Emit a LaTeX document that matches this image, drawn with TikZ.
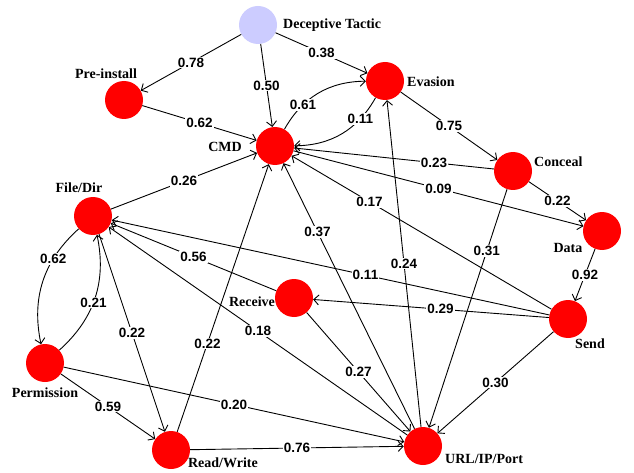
\documentclass[tikz,border=0pt]{standalone}
\usepackage{fontspec}
\usepackage{tikz}
\usetikzlibrary{arrows.meta}
\newfontfamily\numfont{Liberation Sans}
\newfontfamily\tagfont{Liberation Serif}
\definecolor{lavender}{RGB}{204,204,255}

\begin{document}
\begin{tikzpicture}[x=1pt,y=-1pt,
	state/.style={shape=circle,fill=red,minimum size=38pt,inner sep=0pt},
	tag/.style={font=\tagfont\bfseries\fontsize{14}{14}\selectfont,inner sep=0pt},
	wt/.style={font=\numfont\bfseries\fontsize{13.5}{13.5}\selectfont,fill=white,inner sep=1pt},
	every edge/.style={draw,line width=0.9pt},
	>={Straight Barb[length=5pt,width=10pt]}]
	\useasboundingbox (0,0) rectangle (634,473);

	\node[state,fill=lavender] (dt) at (258, 25)  {};
	\node[state] (pi)  at (124, 100) {};
	\node[state] (cmd) at (275, 146) {};
	\node[state] (ev)  at (385, 81)  {};
	\node[state] (co)  at (513, 171) {};
	\node[state] (da)  at (602, 231) {};
	\node[state] (fd)  at (93, 216)  {};
	\node[state] (re)  at (294, 298) {};
	\node[state] (se)  at (568, 319) {};
	\node[state] (pe)  at (45, 363)  {};
	\node[state] (rw)  at (171, 450) {};
	\node[state] (url) at (423, 446) {};

	\node[tag,anchor=west] (dt-t)  at (283, 25)  {Deceptive Tactic};
	\node[tag] (pi-t)  at (106, 74)  {Pre-install};
	\node[tag] (cmd-t) at (225, 147) {CMD};
	\node[tag,anchor=west] (ev-t)  at (407, 82)  {Evasion};
	\node[tag,anchor=west] (co-t)  at (534, 162) {Conceal};
	\node[tag] (da-t)  at (568, 248) {Data};
	\node[tag] (fd-t)  at (79, 188)  {File/Dir};
	\node[tag] (re-t)  at (252, 302) {Receive};
	\node[tag] (se-t)  at (590, 344) {Send};
	\node[tag] (pe-t)  at (45, 393)  {Permission};
	\node[tag] (rw-t)  at (223, 463) {Read/Write};
	\node[tag,anchor=west] (url-t) at (445, 459) {URL/IP/Port};

	\path[->] (dt) edge node[wt]{0.78} (pi);
	\path[->] (dt) edge node[wt]{0.50} (cmd);
	\path[->] (dt) edge node[wt]{0.38} (ev);
	\path[->] (pi) edge node[wt]{0.62} (cmd);
	\path[->] (cmd) edge[bend left=30] node[wt,pos=0.3]{0.61} (ev);
	\path[->] (ev) edge[bend left=30] node[wt,pos=0.25]{0.11} (cmd);
	\path[->] (ev) edge node[wt]{0.75} (co);
	\path[->] (co) edge node[wt,pos=0.3]{0.23} (cmd);
	\path[->] (cmd) edge node[wt]{0.09} (da);
	\path[->] (co) edge node[wt]{0.22} (da);
	\path[->] (co) edge node[wt,pos=0.26]{0.31} (url);
	\path[->] (da) edge node[wt]{0.92} (se);
	\path[->] (fd) edge node[wt]{0.26} (cmd);
	\path[->] (se) edge node[wt,pos=0.7]{0.17} (cmd);
	\path[->] (url) edge node[wt,pos=0.74]{0.37} (cmd);
	\path[->] (url) edge node[wt]{0.24} (ev);
	\path[->] (se) edge node[wt,pos=0.42]{0.11} (fd);
	\path[->] (se) edge node[wt,pos=0.46]{0.29} (re);
	\path[->] (se) edge node[wt]{0.30} (url);
	\path[->] (re) edge node[wt]{0.56} (fd);
	\path[->] (re) edge node[wt]{0.27} (url);
	\path[->] (url) edge node[wt]{0.18} (fd);
	\path[->] (fd) edge[bend right=30] node[wt,pos=0.3]{0.62} (pe);
	\path[->] (pe) edge[bend right=30] node[wt,pos=0.46]{0.21} (fd);
	\path[->] (fd) edge node[wt]{0.22} (rw);
	\path[->] (rw) edge node[wt,pos=0.33]{0.22} (cmd);
	\path[->] (pe) edge node[wt]{0.59} (rw);
	\path[->] (pe) edge node[wt]{0.20} (url);
	\path[->] (rw) edge node[wt]{0.76} (url);
\end{tikzpicture}
\end{document}
